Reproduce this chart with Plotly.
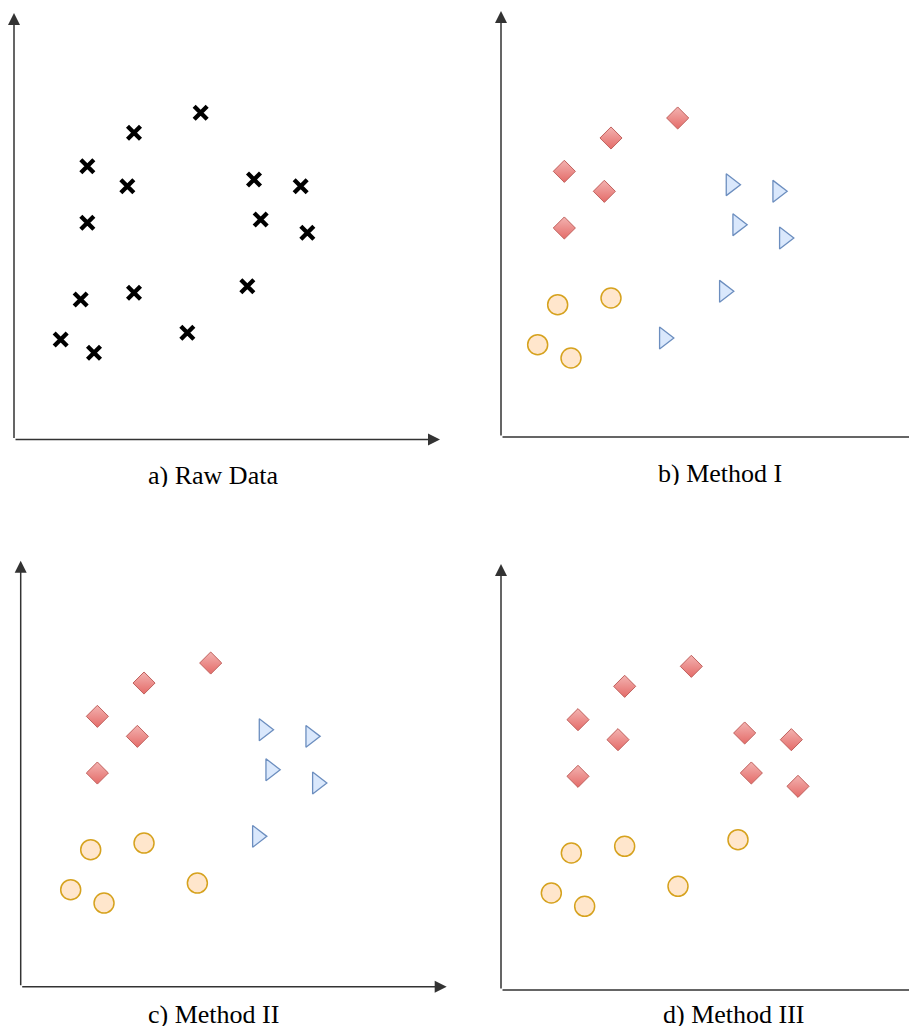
import plotly.graph_objects as go

# ---- data (grid units) ----
point_x = [28, 18, 11, 17, 11, 36, 43, 37, 44, 10, 18, 35, 7, 12, 26]
point_y = [49, 46, 41, 38, 32.5, 39, 38, 33, 31, 21, 22, 23, 15, 13, 16]

raw_groups = ["X"] * 15
method1_groups = ["D", "D", "D", "D", "D", "T", "T", "T", "T", "C", "C", "T", "C", "C", "T"]
method2_groups = ["D", "D", "D", "D", "D", "T", "T", "T", "T", "C", "C", "T", "C", "C", "C"]
method3_groups = ["D"] * 9 + ["C"] * 6

panel_titles = ["a) Raw Data", "b) Method I", "c) Method II", "d) Method III"]
panel_groups = [raw_groups, method1_groups, method2_groups, method3_groups]

# ---- geometry (pixels, in window coordinates) ----
OFF = 8  # page body margin
W, H = 917 - OFF, 1028 - OFF
S = 20 / 3  # pixels per grid unit
geom = [
    dict(ox=14, oy=439.5, x0=0.0, y0=0.0, xtip=440, ytip=13, right=452, lx=213, ly=475),
    dict(ox=501, oy=437, x0=1.5, y0=1.15, xtip=927, ytip=11, right=917, lx=720, ly=473),
    dict(ox=20.7, oy=986.7, x0=-0.5, y0=0.45, xtip=446.7, ytip=560.7, right=458, lx=213, ly=1014),
    dict(ox=501, oy=990, x0=-0.55, y0=0.45, xtip=927, ytip=564, right=917, lx=734, ly=1014),
]
for g in geom:
    for k in ["ox", "xtip", "right", "lx"]:
        g[k] -= OFF
    for k in ["oy", "ytip", "ly"]:
        g[k] -= OFF

styles = {
    "X": dict(symbol="x-thin", size=13, color="#000000", line=dict(color="#000000", width=4.3)),
    "D": dict(symbol="diamond", size=17, color="#f3b3b1",
              gradient=dict(type="vertical", color="#e46b68"),
              line=dict(color="#c0605c", width=1)),
    "T": dict(symbol="triangle-right", size=19, color="#dae8fc",
              line=dict(color="#6c8ebf", width=1.3)),
    "C": dict(symbol="circle", size=20, color="#ffe6cc",
              line=dict(color="#d6a21e", width=1.5)),
}

fig = go.Figure()
annotations = []
layout_axes = {}

for i, (g, groups, title) in enumerate(zip(geom, panel_groups, panel_titles)):
    n = i + 1
    xa = "x" if n == 1 else f"x{n}"
    ya = "y" if n == 1 else f"y{n}"
    xkey = "xaxis" if n == 1 else f"xaxis{n}"
    ykey = "yaxis" if n == 1 else f"yaxis{n}"

    top_px = g["ytip"] - 3
    layout_axes[xkey] = dict(
        domain=[g["ox"] / W, min(1.0, g["right"] / W)],
        range=[g["x0"], g["x0"] + (min(g["right"], W) - g["ox"]) / S],
        visible=False, anchor=ya, fixedrange=True,
    )
    layout_axes[ykey] = dict(
        domain=[1 - g["oy"] / H, 1 - top_px / H],
        range=[g["y0"], g["y0"] + (g["oy"] - top_px) / S],
        visible=False, anchor=xa, fixedrange=True,
    )

    for key in ["D", "T", "C", "X"]:
        xs = [x for x, k in zip(point_x, groups) if k == key]
        ys = [y for y, k in zip(point_y, groups) if k == key]
        if not xs:
            continue
        fig.add_trace(go.Scatter(
            x=xs, y=ys, mode="markers", xaxis=xa, yaxis=ya,
            marker=styles[key], cliponaxis=False, showlegend=False, hoverinfo="skip",
        ))

    # axes with arrows
    x_tip = g["x0"] + (g["xtip"] - g["ox"]) / S
    y_tip = g["y0"] + (g["oy"] - g["ytip"]) / S
    for hx, hy in [(x_tip, g["y0"]), (g["x0"], y_tip)]:
        annotations.append(dict(
            x=hx, y=hy, ax=g["x0"], ay=g["y0"], xref=xa, yref=ya, axref=xa, ayref=ya,
            text="", showarrow=True, arrowhead=2, arrowsize=1.6, arrowwidth=1.5,
            arrowcolor="#333333", standoff=0, startstandoff=0,
        ))

    annotations.append(dict(
        x=g["lx"] / W, y=1 - g["ly"] / H, xref="paper", yref="paper",
        text=title, showarrow=False, xanchor="center", yanchor="middle",
        height=24, valign="middle", borderpad=0,
        font=dict(family="Liberation Serif", size=26, color="#000000"),
    ))

fig.update_layout(
    width=W, height=H, margin=dict(l=0, r=0, t=0, b=0),
    paper_bgcolor="white", plot_bgcolor="white",
    annotations=annotations, showlegend=False, **layout_axes,
)

fig.write_html("out.html", config={"displayModeBar": False})
